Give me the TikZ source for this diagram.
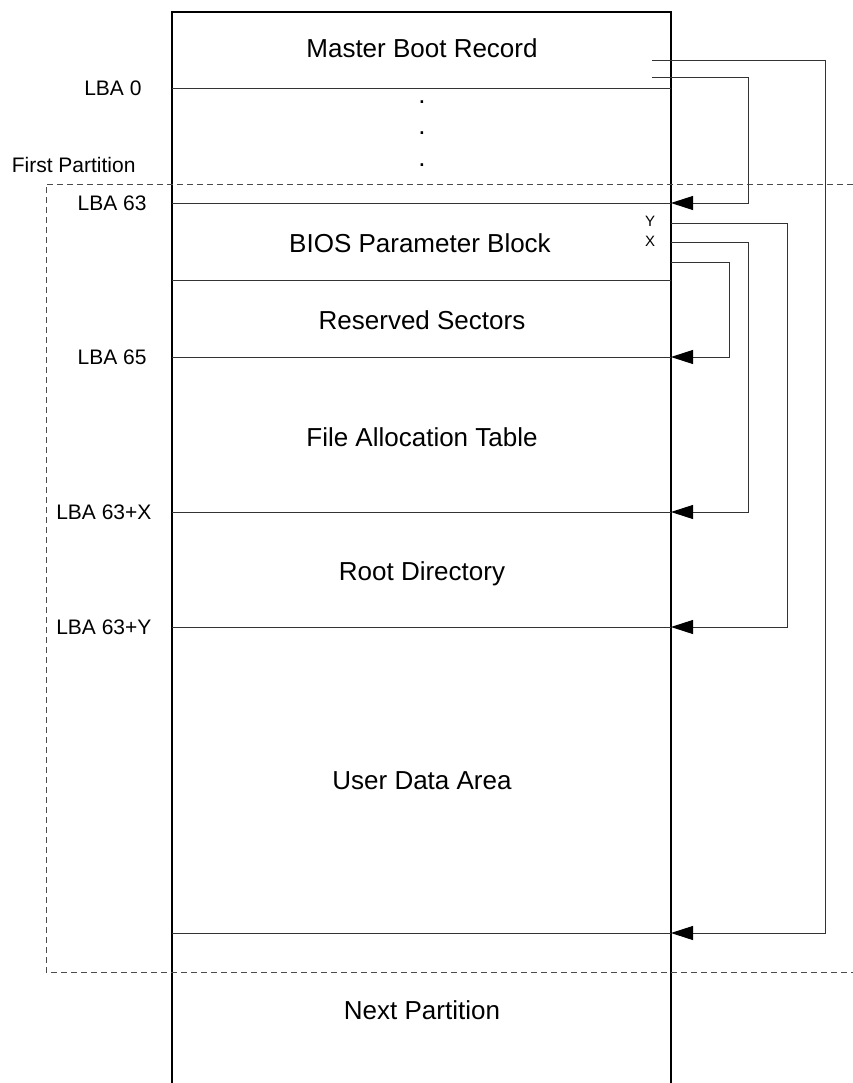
\documentclass[tikz,border=0pt]{standalone}
\usepackage{fontspec}
\setmainfont{Liberation Sans}
\usetikzlibrary{arrows.meta}

\begin{document}
\begin{tikzpicture}[x=1pt,y=-1pt,
	region/.style={anchor=base,font=\fontsize{26}{30}\selectfont},
	lba/.style={anchor=base east,font=\fontsize{21}{25}\selectfont},
	ofs/.style={anchor=base,font=\fontsize{15}{18}\selectfont},
	ptr/.style={-{Triangle[length=22pt,width=14pt,black]},line width=0.9pt,black!80}]
\useasboundingbox (0,0) rectangle (853,1083);
% disk layout
\draw[line width=1.4pt] (172,1083) -- (172,12) -- (671,12) -- (671,1083);
\foreach \y/\n in {88/lba0,203/lba63,280/bpb,357/lba65,512/lbaX,627/lbaY,933/pend}
	{\draw[line width=0.9pt,black!80] (172,\y) -- (671,\y);
	 \coordinate (\n) at (671,\y);}
\draw[dashed,dash pattern=on 6pt off 4pt,line width=0.9pt,black!70]
	(853,184) -- (46,184) -- (46,972) -- (853,972);
\node[region] (mbr) at (422,58) {Master Boot Record};
\foreach \y [count=\i] in {104,135,167}
	\node[region] (dot\i) at (422,\y) {.};
\node[region] (bpbt) at (420,252) {BIOS Parameter Block};
\node[region] (rsv) at (422,329) {Reserved Sectors};
\node[region] (fat) at (422,446) {File Allocation Table};
\node[region] (root) at (422,580) {Root Directory};
\node[region] (data) at (422,789) {User Data Area};
\node[region] (next) at (422,1019) {Next Partition};
% addresses
\node[lba] (l0) at (145,95.5) {LBA 0};
\node[lba] (fp) at (139,172.5) {First Partition};
\node[lba] (l63) at (150,210.5) {LBA 63};
\node[lba] (l65) at (150,364.5) {LBA 65};
\node[lba] (lX) at (155,519.5) {LBA 63+X};
\node[lba] (lY) at (155,634.5) {LBA 63+Y};
\node[ofs] (oy) at (650,227) {Y};
\node[ofs] (ox) at (650,247) {X};
% pointers
\coordinate (mbr1) at (652,60);
\coordinate (mbr2) at (652,77);
\coordinate (bpbY) at (671,223);
\coordinate (bpbX) at (671,242);
\coordinate (bpbR) at (671,262);
\draw[ptr] (mbr1) -- ++(173,0) |- (pend);
\draw[ptr] (mbr2) -- ++(96,0) |- (lba63);
\draw[ptr] (bpbY) -- ++(116,0) |- (lbaY);
\draw[ptr] (bpbX) -- ++(77,0) |- (lbaX);
\draw[ptr] (bpbR) -- ++(58,0) |- (lba65);
\end{tikzpicture}
\end{document}
